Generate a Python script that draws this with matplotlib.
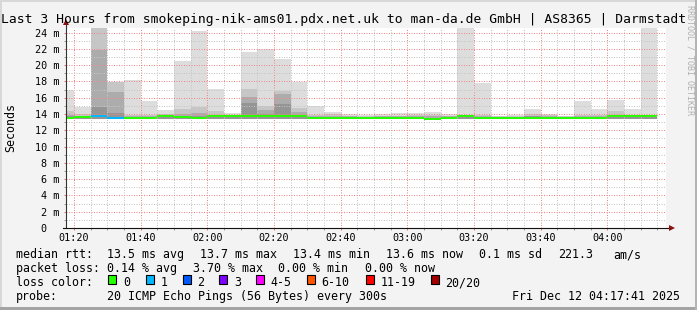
import matplotlib.pyplot as plt
from matplotlib.patches import Rectangle
import numpy as np

W, H = 697, 310

# five-minute rounds, start minute after midnight (01:15 .. 04:10)
bar_start = np.arange(75, 255, 5)
view_start = 77 + 41 / 60   # 01:17:41
view_end = 257 + 41 / 60    # 04:17:41

# median rtt per round (ms)
median = [13.55, 13.65, 13.70, 13.55, 13.55, 13.55, 13.72, 13.64, 13.55, 13.70,
          13.70, 13.80, 13.72, 13.80, 13.72, 13.55, 13.55, 13.55, 13.55, 13.55,
          13.55, 13.55, 13.43, 13.55, 13.72, 13.55, 13.55, 13.55, 13.55, 13.55,
          13.55, 13.55, 13.55, 13.70, 13.70, 13.70]
# lost pings per round
loss = [0, 0, 1, 1, 0, 0, 0, 0, 0, 0, 0, 0, 0, 0, 0, 0, 0, 0, 0, 0,
        0, 0, 0, 0, 0, 0, 0, 0, 0, 0, 0, 0, 0, 0, 0, 0]
# smoke: lowest ping and four upper levels (outer -> inner), ms
smoke_min = [13.35] * 22 + [13.30] + [13.35] * 13
smoke_1 = [17.0, 14.8, 24.65, 17.97, 18.18, 15.64, 14.5, 20.55, 24.24, 17.04,
           14.17, 21.66, 21.95, 20.76, 17.88, 15.03, 14.3, 14.0, 13.9, 14.0,
           14.1, 14.1, 14.2, 14.0, 24.65, 17.77, 13.8, 13.9, 14.58, 14.0,
           13.75, 15.64, 14.58, 15.72, 14.66, 24.65]
smoke_2 = [14.4, 14.0, 24.65, 17.97, 13.9, 13.9, 14.0, 14.6, 14.9, 14.4,
           13.9, 17.05, 15.0, 16.87, 14.7, 13.9, 14.0, 13.8, 13.75, 13.8,
           13.8, 13.85, 13.9, 13.8, 13.9, 13.9, 13.7, 13.75, 14.0, 13.85,
           13.7, 13.9, 13.9, 14.4, 13.9, 13.9]
smoke_3 = [13.9, 13.8, 21.8, 16.75, 13.75, 13.75, 13.8, 14.0, 14.1, 13.9,
           13.8, 16.1, 14.5, 16.46, 14.3, 13.75, 13.8, 13.7, 13.65, 13.7,
           13.7, 13.7, 13.7, 13.7, 13.8, 13.75, 13.65, 13.65, 13.8, 13.7,
           13.65, 13.75, 13.75, 13.9, 13.75, 13.8]
smoke_4 = [13.7, 13.7, 14.9, 14.1, 13.65, 13.65, 13.75, 13.75, 13.75, 13.75,
           13.75, 15.4, 14.0, 15.2, 13.9, 13.6, 13.65, 13.6, 13.6, 13.6,
           13.6, 13.6, 13.55, 13.6, 13.75, 13.65, 13.6, 13.6, 13.7, 13.6,
           13.6, 13.6, 13.6, 13.7, 13.7, 13.75]

x_ticks = [80, 100, 120, 140, 160, 180, 200, 220, 240]
x_labels = ["01:20", "01:40", "02:00", "02:20", "02:40", "03:00", "03:20", "03:40", "04:00"]
y_ticks = list(range(0, 25, 2))
y_labels = ["0  "] + ["%d m" % v for v in y_ticks[1:]]

loss_names = ["0", "1", "2", "3", "4-5", "6-10", "11-19", "20/20"]
loss_colors = ["#26ff00", "#00b8ff", "#0059ff", "#7e00ff", "#ff00ff", "#ff5500", "#ff0000", "#a10000"]
smoke_colors = ["#dddddd", "#c6c6c6", "#acacac", "#959595"]

plt.rcParams['font.family'] = ['DejaVu Sans Mono']


def fx(px):
    return px / W


def fy(py):
    return 1 - py / H


fig = plt.figure(figsize=(W / 100, H / 100), dpi=100, facecolor="#f3f3f3")
ax = fig.add_axes([fx(66.3), fy(228), 600 / W, 200 / H])
ax.set_facecolor("white")

for level, col in zip([smoke_1, smoke_2, smoke_3, smoke_4], smoke_colors):
    heights = np.array(level) - np.array(smoke_min)
    ax.bar(bar_start, heights, bottom=smoke_min, width=5, align="edge",
           color=col, linewidth=0, zorder=1)

med_cols = [loss_colors[n] for n in loss]
ax.hlines(median, bar_start, bar_start + 5, colors=med_cols, linewidth=1.44,
          zorder=3, capstyle="butt")

ax.set_xlim(view_start, view_end)
ax.set_ylim(0, 24.56)
ax.set_xticks(x_ticks)
ax.set_xticklabels(x_labels)
ax.set_xticks(np.arange(80, 256, 5), minor=True)
ax.set_yticks(y_ticks)
ax.set_yticklabels(y_labels)
ax.set_yticks(range(0, 25), minor=True)

ax.set_axisbelow(False)
ax.grid(which="minor", color="#c4c4c4", linestyle=(0, (1, 1.5)), linewidth=0.72)
ax.grid(which="major", color="#ee8888", linestyle=(0, (1, 1.5)), linewidth=0.72)
ax.tick_params(which="both", labelsize=7.3, length=1.5, width=0.72, colors="#999999",
               labelcolor="black")
ax.tick_params(axis="x", which="major", pad=2.2, colors="#dd7777", labelcolor="black")
ax.tick_params(axis="y", which="major", pad=3.5, colors="#dd7777", labelcolor="black")
for s in ax.spines.values():
    s.set_visible(False)

# axis lines with arrows
ax.plot([0, 0], [0, 1 + 6 / 200], transform=ax.transAxes, clip_on=False,
        color="#333333", lw=0.8, zorder=4)
ax.plot([-3 / 600, 1 + 5 / 600], [0, 0], transform=ax.transAxes, clip_on=False,
        color="#111111", lw=0.8, zorder=4)
ax.plot([0], [1 + 6 / 200], marker="^", ms=4.5, color="#8b1010", mew=0,
        transform=ax.transAxes, clip_on=False, zorder=5)
ax.plot([1 + 6 / 600], [0], marker=">", ms=4.5, color="#8b1010", mew=0,
        transform=ax.transAxes, clip_on=False, zorder=5)

fig.text(fx(1), fy(23.3), "Last 3 Hours from smokeping-nik-ams01.pdx.net.uk to "
         "man-da.de GmbH | AS8365 | Darmstadt", fontsize=9.35, ha="left", va="baseline")
fig.text(fx(10.5), fy(127), "Seconds", fontsize=8.4, rotation=90, ha="center", va="center")
fig.text(fx(690), fy(5), "RRDTOOL / TOBI OETIKER", fontsize=6, rotation=270,
         ha="center", va="top", color="#b0b0b0")

lfs = 8.4
rows = [
    (258.3, [(16, "median rtt:"), (107, "13.5 ms avg"), (200.3, "13.7 ms max"),
             (293, "13.4 ms min"), (385.6, "13.6 ms now"), (479, "0.1 ms sd"),
             (558, "221.3"), (613.7, "am/s")]),
    (272.3, [(16, "packet loss:"), (107, "0.14 % avg"), (193, "3.70 % max"),
             (278, "0.00 % min"), (364.7, "0.00 % now")]),
    (286, [(16, "loss color:")]),
    (300, [(16, "probe:"), (107, "20 ICMP Echo Pings (56 Bytes) every 300s")]),
]
for yb, parts in rows:
    for xp, s in parts:
        fig.text(fx(xp), fy(yb), s, fontsize=lfs, ha="left", va="baseline")
fig.text(fx(680.5), fy(300), "Fri Dec 12 04:17:41 2025", fontsize=lfs,
         ha="right", va="baseline")

box_x = [108.3, 145.7, 182.7, 219.3, 256, 306.7, 365.7, 430.7]
for bx, name, col in zip(box_x, loss_names, loss_colors):
    fig.patches.append(Rectangle((fx(bx), fy(283.7)), 8 / W, 8.3 / H,
                                 transform=fig.transFigure, facecolor=col,
                                 edgecolor="black", linewidth=0.8))
    fig.text(fx(bx + 14.8), fy(286), name, fontsize=lfs, ha="left", va="baseline")

# frame of the canvas
fig.patches.append(Rectangle((0, fy(2)), 1, 2 / H, transform=fig.transFigure,
                             facecolor="#d8d8d8", linewidth=0))
fig.patches.append(Rectangle((0, 0), 2 / W, 1, transform=fig.transFigure,
                             facecolor="#d8d8d8", linewidth=0))
fig.patches.append(Rectangle((0, 0), 1, 3 / H, transform=fig.transFigure,
                             facecolor="#a4a4a4", linewidth=0))
fig.patches.append(Rectangle((1 - 2 / W, 0), 2 / W, 1, transform=fig.transFigure,
                             facecolor="#b4b4b4", linewidth=0))

fig.savefig("out.png", dpi=100, facecolor=fig.get_facecolor())
